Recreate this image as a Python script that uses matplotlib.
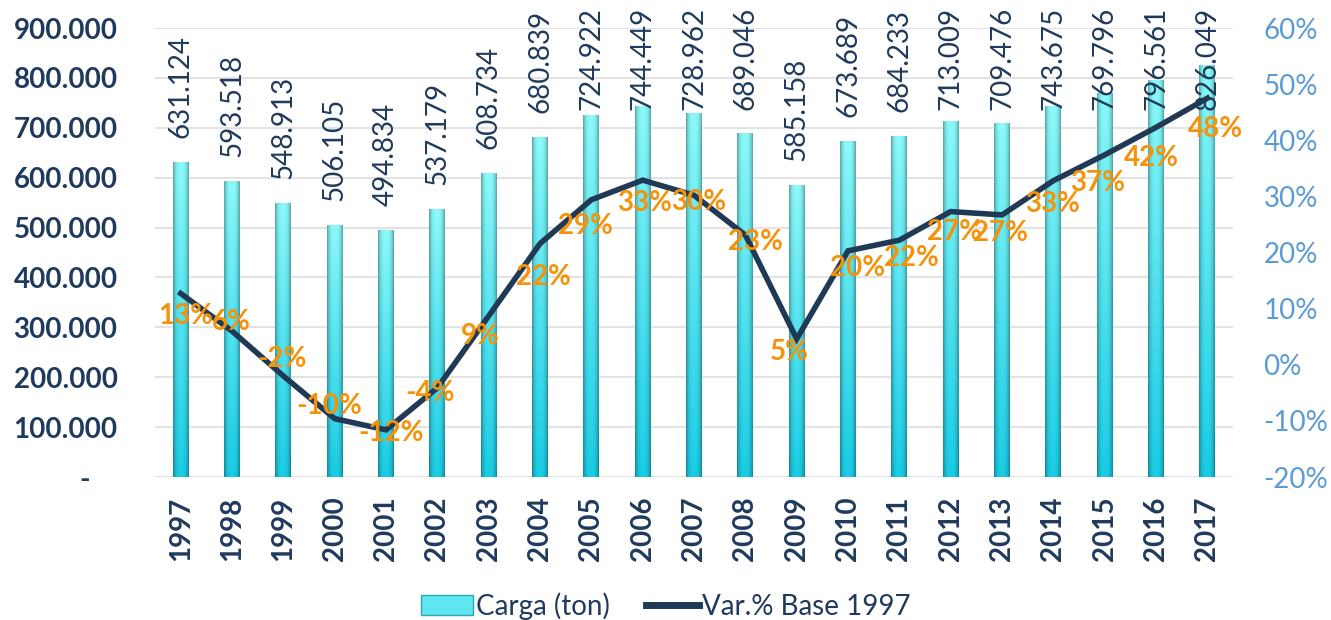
import numpy as np
import matplotlib
matplotlib.use("Agg")
import matplotlib.pyplot as plt
from matplotlib.patches import Patch
from matplotlib.lines import Line2D

plt.rcParams['font.family'] = ['Lato', 'DejaVu Sans']

# data
years = [1997, 1998, 1999, 2000, 2001, 2002, 2003, 2004, 2005, 2006, 2007,
         2008, 2009, 2010, 2011, 2012, 2013, 2014, 2015, 2016, 2017]
carga = [631124, 593518, 548913, 506105, 494834, 537179, 608734, 680839,
         724922, 744449, 728962, 689046, 585158, 673689, 684233, 713009,
         709476, 743675, 769796, 796561, 826049]
var_pct = [12.7, 6.0, -2.0, -9.6, -11.6, -4.1, 8.7, 21.6, 29.4, 32.9, 30.2,
           23.1, 4.6, 20.3, 22.2, 27.3, 26.7, 32.8, 37.4, 42.3, 47.5]

# where each % label sits relative to its point (pixels, like Excel's layout)
lab_dx = [5, -1, -1, -5, 5, -7, -8, 3, -6, 2, 5, 10, -7, 10, 12, 4, -2, -1, -7, -5, 8]
lab_dy = [-23, 9, 17, 13, -3, -5, -20, -33, -26, -23, -7, -7, -13, -17, -18,
          -20, -18, -23, -28, -31, -31]

navy = '#1F3A5C'
line_col = '#203A55'
orange = '#F5920A'
blue_r = '#5B9BD5'
fs = 20

fig = plt.figure(figsize=(13.31, 6.2), dpi=100)
ax = fig.add_axes([0.1165, 0.2306, 0.8099, 0.7242])
x = np.arange(len(years))

bars = ax.bar(x, carga, width=0.31, color='#5FE6F0', edgecolor='none', zorder=2)

# cylinder-like gradient inside each bar
nv, nh = 200, 40
t = np.linspace(0, 1, nv)[:, None]          # 0 top, 1 bottom
top_c = np.array([0.55, 0.98, 0.98])
bot_c = np.array([0.10, 0.80, 0.90])
base = top_c * (1 - t[..., None]) + bot_c * t[..., None]
u = np.linspace(-1, 1, nh)[None, :]
shade = 1.0 - 0.35 * np.abs(u) ** 3
grad = np.clip(base * shade[..., None], 0, 1)
for b in bars:
    x0, w, h = b.get_x(), b.get_width(), b.get_height()
    im = ax.imshow(grad, extent=[x0, x0 + w, 0, h], aspect='auto',
                   zorder=2.5, interpolation='bilinear')
    im.set_clip_path(b)

# value labels above bars (clamped to top of chart)
for xi, v in zip(x, carga):
    s = f"{v:,.0f}".replace(",", ".")
    ax.text(xi, min(v + 48000, 736000), s, rotation=90, ha='center',
            va='bottom', fontsize=fs, color=navy, zorder=4)

ax.set_xlim(-0.5, len(years) - 0.5)
ax.set_ylim(0, 900000)
ax.set_yticks(np.arange(0, 900001, 100000))
ax.set_yticklabels(["-    " if v == 0 else f"{v:,.0f}".replace(",", ".")
                    for v in np.arange(0, 900001, 100000)])
ax.set_xticks(x)
ax.set_xticklabels([str(y) for y in years], rotation=90)
ax.tick_params(axis='y', length=0, pad=27, labelsize=fs, labelcolor=navy)
ax.tick_params(axis='x', length=0, pad=14, labelsize=fs, labelcolor=navy)
for lab in ax.get_yticklabels() + ax.get_xticklabels():
    lab.set_fontweight('bold')
ax.grid(axis='y', color='#E3E3E3', linewidth=1.5, zorder=0)
ax.set_axisbelow(True)
for s in ax.spines.values():
    s.set_visible(False)

ax2 = ax.twinx()
ax2.plot(x, np.array(var_pct) / 100, color=line_col, linewidth=4, zorder=5,
         solid_joinstyle='miter')
for xi, p, dx, dy in zip(x, var_pct, lab_dx, lab_dy):
    ax2.annotate(f"{p:.0f}%", (xi, p / 100), xytext=(dx, dy),
                 textcoords='offset pixels', ha='center', va='center',
                 fontsize=fs, fontweight='bold', color=orange, zorder=6)
ax2.set_ylim(-0.2, 0.6)
ax2.set_yticks(np.arange(-0.2, 0.61, 0.1))
ax2.set_yticklabels([f"{v:.0f}%" for v in np.arange(-20, 61, 10)])
ax2.tick_params(axis='y', length=0, pad=22, labelsize=fs, labelcolor=blue_r)
for s in ax2.spines.values():
    s.set_visible(False)
ax2.set_xlim(-0.5, len(years) - 0.5)

handles = [Patch(facecolor='#5FE6F0', edgecolor='#2AA7B8'),
           Line2D([0], [0], color=line_col, linewidth=5)]
fig.legend(handles, ['Carga (ton)', 'Var.% Base 1997'], loc='lower center',
           bbox_to_anchor=(0.5, -0.04), ncol=2, frameon=False,
           fontsize=fs, labelcolor=navy, handlelength=1.9,
           handletextpad=0.1, columnspacing=1.3)

fig.savefig('out.png', dpi=100)
